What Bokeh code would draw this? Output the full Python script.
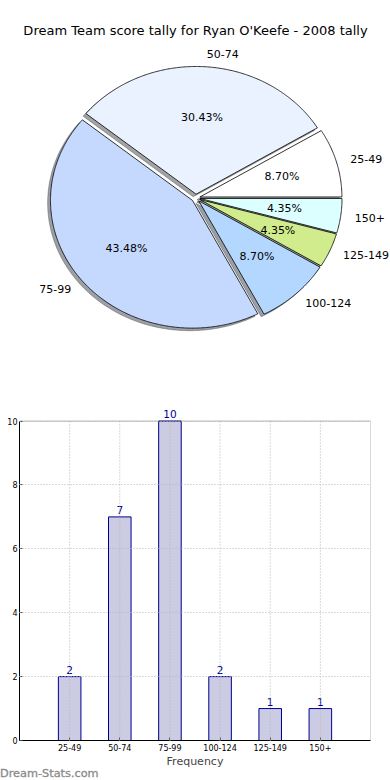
import numpy as np
from bokeh.plotting import figure
from bokeh.models import Range1d, FixedTicker, ColumnDataSource, LabelSet, Label, BoxAnnotation, Div
from bokeh.layouts import column
from bokeh.embed import file_html
from bokeh.resources import INLINE
from bokeh.core.properties import value

# ---- data ----
categories = ["25-49", "50-74", "75-99", "100-124", "125-149", "150+"]
counts = [2, 7, 10, 2, 1, 1]
slice_colors = ["#ffffff", "#eaf2ff", "#c5d9ff", "#b4d7ff", "#d0ec8c", "#dcffff"]
y_ticks = [0, 2, 4, 6, 8, 10]
title_text = "Dream Team score tally for Ryan O'Keefe - 2008 tally"
x_label = "Frequency"
watermark = "Dream-Stats.com"

FONT = "DejaVu Sans"
W = 390
PIE_H = 403
LEFT = 19          # left border shared by both figures (frames are aligned)

# pie geometry (pixels, page coordinates)
CX, CY = 195.3, 197.5
RX, RY = 142.0, 127.7
EXPLODE = 0.03
SHADOW = 0.02

pie = figure(frame_width=W - LEFT, frame_height=PIE_H, output_backend="svg",
             toolbar_location=None,
             x_range=Range1d((LEFT - CX) / RX, (W - CX) / RX),
             y_range=Range1d((CY - PIE_H) / RY, CY / RY),
             x_axis_location=None, y_axis_location=None, min_border=0,
             min_border_left=LEFT, title=None)
pie.grid.visible = False
pie.outline_line_color = None

total = float(sum(counts))
fr = np.array(counts) / total
ends = np.cumsum(fr) * 360.0
starts = ends - fr * 360.0
mids = (starts + ends) / 2.0

xs, ys, sxs, sys_ = [], [], [], []
for s, e, m in zip(starts, ends, mids):
    th = np.radians(np.linspace(s, e, max(int(e - s), 4) * 2))
    ox = EXPLODE * np.cos(np.radians(m))
    oy = EXPLODE * np.sin(np.radians(m))
    px = np.concatenate([[ox], ox + np.cos(th), [ox]])
    py = np.concatenate([[oy], oy + np.sin(th), [oy]])
    xs.append(px.tolist())
    ys.append(py.tolist())
    sxs.append((px - SHADOW).tolist())
    sys_.append((py - SHADOW).tolist())


def darken(h, f=0.3):
    h = h.lstrip("#")
    r, g, b = (int(h[i:i + 2], 16) for i in (0, 2, 4))
    return "#%02x%02x%02x" % (int(r * f), int(g * f), int(b * f))


shadow_colors = [darken(c) for c in slice_colors]
pie.patches(xs=sxs, ys=sys_, fill_color=shadow_colors, fill_alpha=0.5,
            line_color=shadow_colors, line_alpha=0.5, line_width=0.8)
pie.patches(xs=xs, ys=ys, fill_color=slice_colors, line_color="black", line_width=0.8)

mr = np.radians(mids)
lab_x = (EXPLODE + 1.1) * np.cos(mr)
lab_y = (EXPLODE + 1.1) * np.sin(mr)
pct_x = (EXPLODE + 0.6) * np.cos(mr)
pct_y = (EXPLODE + 0.6) * np.sin(mr)
pct_text = ["%.2f%%" % (100.0 * c / total) for c in counts]

right_idx = [i for i in range(len(categories)) if lab_x[i] >= 0]
left_idx = [i for i in range(len(categories)) if lab_x[i] < 0]
for idx, align in ((right_idx, "left"), (left_idx, "right")):
    pie.text(x=[lab_x[i] for i in idx], y=[lab_y[i] for i in idx],
             text=[categories[i] for i in idx], text_align=align,
             text_baseline="middle", text_font_size="11px", text_font=value(FONT),
             text_color="black")
pie.text(x=pct_x.tolist(), y=pct_y.tolist(), text=pct_text, text_align="center",
         text_baseline="middle", text_font_size="11px", text_font=value(FONT),
         text_color="black")

pie.add_layout(Label(x=(W / 2 - CX) / RX, y=(CY - 30) / RY, text=title_text,
                     text_align="center", text_baseline="middle",
                     text_font_size="13px", text_font=FONT, text_color="black"))

# ---- bar chart ----
Y_MAX = 10
Y_PAD = 0.55
X_LO, X_HI = -1, len(categories)
bar = figure(frame_width=351, frame_height=337, output_backend="svg", toolbar_location=None,
             x_range=Range1d(X_LO, X_HI), y_range=Range1d(0, Y_MAX + Y_PAD),
             min_border_left=LEFT, min_border_right=20, min_border_top=0,
             min_border_bottom=27, title=None)
xpos = list(range(len(categories)))
src = ColumnDataSource(dict(x=xpos, top=counts, label=[str(c) for c in counts]))
bar.vbar(x="x", top="top", width=0.45, source=src, fill_color="#cbcbe4",
         line_color="#000090", line_width=1)

# vertical dotted grid lines at the category ticks, limited to the axis span
bar.segment(x0=xpos, y0=[0] * len(xpos), x1=xpos, y1=[Y_MAX] * len(xpos),
            line_color="#b4b4b4", line_dash="1 2", line_width=1, level="overlay")
bar.xgrid.visible = False

bar.add_layout(LabelSet(x="x", y="top", text="label", source=src, y_offset=3,
                        text_align="center", text_baseline="bottom",
                        text_font_size="10.5px", text_font=value(FONT),
                        text_color="#000090"))

bar.xaxis.ticker = FixedTicker(ticks=xpos)
bar.xaxis.major_label_overrides = {i: c for i, c in zip(xpos, categories)}
bar.yaxis.ticker = FixedTicker(ticks=y_ticks)
bar.yaxis.bounds = (0, Y_MAX)
bar.ygrid.ticker = FixedTicker(ticks=y_ticks)
bar.ygrid.grid_line_color = "#b4b4b4"
bar.ygrid.grid_line_dash = "1 2"
bar.ygrid.grid_line_width = 1
bar.ygrid.level = "overlay"

for ax in (bar.xaxis, bar.yaxis):
    ax.major_label_text_font_size = "8px"
    ax.major_label_text_font = FONT
    ax.major_label_text_color = "black"
    ax.major_tick_in = 3
    ax.major_tick_out = 0
    ax.minor_tick_line_color = None
    ax.major_tick_line_color = "#555555"
    ax.axis_line_color = "black"
    ax.major_label_standoff = 2

bar.xaxis.axis_label = x_label
bar.xaxis.axis_label_text_font_size = "11px"
bar.xaxis.axis_label_text_font = FONT
bar.xaxis.axis_label_text_font_style = "normal"
bar.xaxis.axis_label_standoff = 1
bar.xaxis.major_label_standoff = 3

bar.outline_line_color = None
bar.add_layout(BoxAnnotation(left=X_LO, right=X_HI, bottom=0, top=Y_MAX,
                             fill_alpha=0, line_color="black", line_width=1))

mark = Div(text=watermark, width=W, height=13, margin=(0, 0, 0, 0),
           styles={"font-family": FONT, "font-size": "11.3px", "font-weight": "normal",
                   "color": "#8a8a8a", "line-height": "13px", "margin-top": "-3px",
                   "-webkit-text-stroke": "0.3px #8a8a8a"})

layout = column(pie, bar, mark)
open("out.html", "w").write(file_html(layout, INLINE))
